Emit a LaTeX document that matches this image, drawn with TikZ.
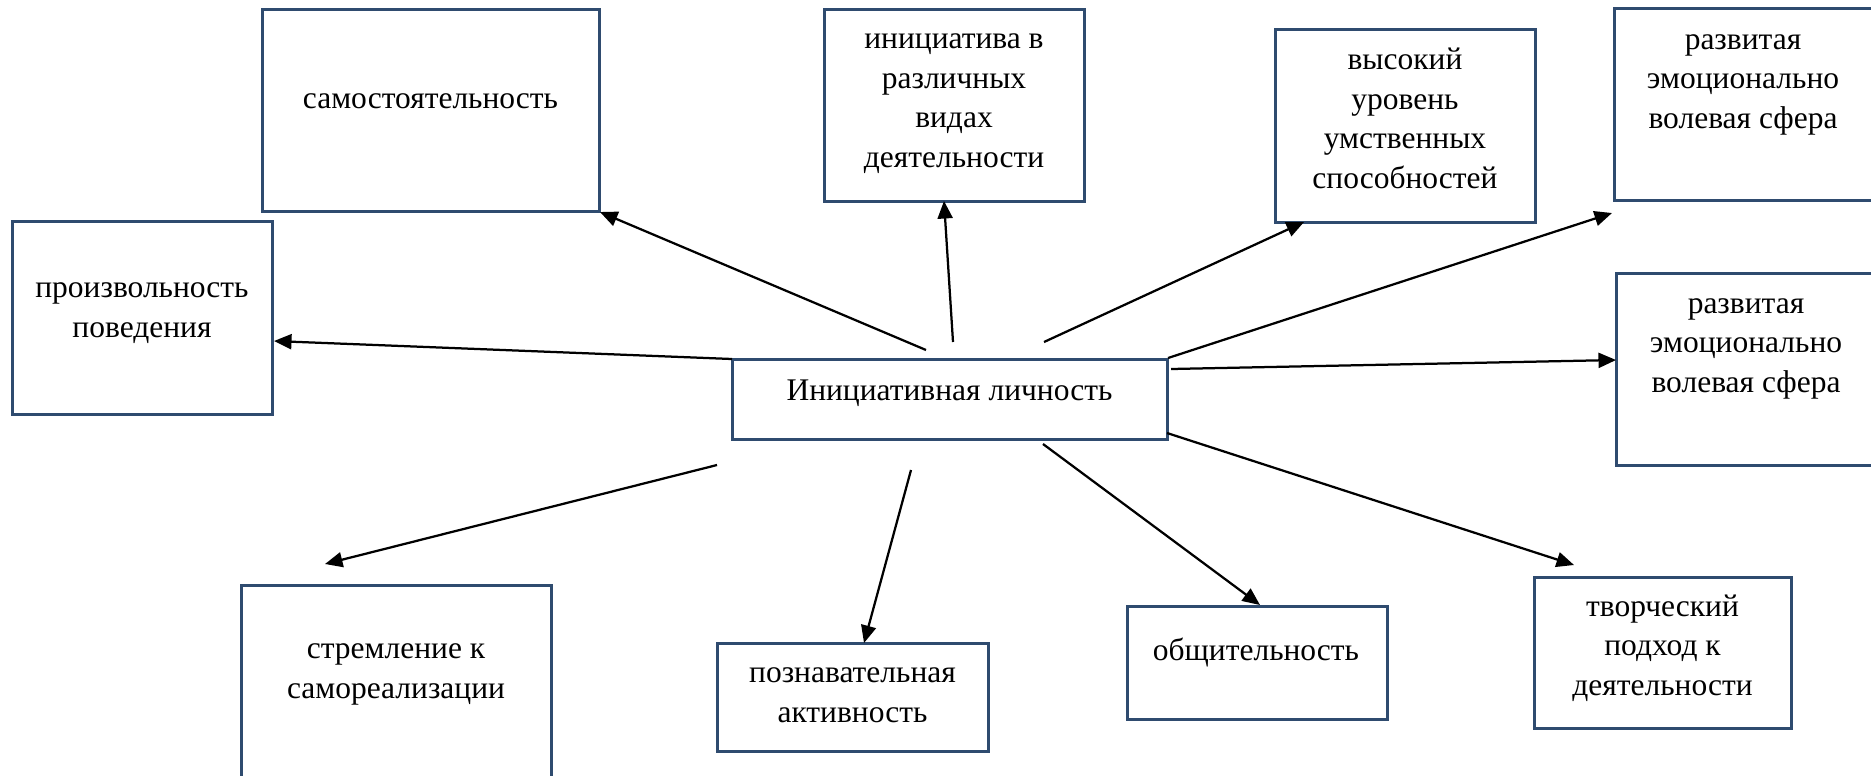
\documentclass[tikz,border=0pt]{standalone}
\usepackage{fontspec}
\setmainfont{Liberation Serif}
\usetikzlibrary{arrows.meta}
\definecolor{frame}{HTML}{2F4B6F}
\begin{document}
\begin{tikzpicture}[x=0.4pt,y=-0.4pt,>={Triangle[length=7pt,width=6pt]},
  box/.style 2 args={draw=frame,line width=1.2pt,inner sep=0pt,minimum width=#1*0.4pt,minimum height=#2*0.4pt},
  txt/.style={font=\fontsize{12.6}{15.8}\selectfont,align=center,inner sep=0pt,anchor=base},
  link/.style={->,line width=0.9pt}]
\clip (0,0) rectangle (1871,775);
% frames
\node[box={337}{202}] (samost) at (430.5,110) {};
\node[box={260}{193}] (proizv) at (142,317.5) {};
\node[box={260}{192}] (inic) at (954,105) {};
\node[box={260}{193}] (vysok) at (1405,125.5) {};
\node[box={260}{192}] (razvA) at (1744,104) {};
\node[box={260}{192}] (razvB) at (1746,369) {};
\node[box={435}{80}] (lichn) at (949.5,399) {};
\node[box={310}{220}] (strem) at (396,695) {};
\node[box={271}{108}] (pozn) at (852.5,697) {};
\node[box={260}{113}] (obsh) at (1257,662.5) {};
\node[box={257}{151}] (tvor) at (1662.5,652.5) {};
% texts (anchored at the last line)
\node[txt] (samost-t) at (430.5,108) {самостоятельность};
\node[txt] (proizv-t) at (142,337) {произвольность\\поведения};
\node[txt] (inic-t) at (954,167) {инициатива в\\различных\\видах\\деятельности};
\node[txt] (vysok-t) at (1405,188) {высокий\\уровень\\умственных\\способностей};
\node[txt] (razvA-t) at (1743,128) {развитая\\эмоционально\\волевая сфера};
\node[txt] (razvB-t) at (1746,392) {развитая\\эмоционально\\волевая сфера};
\node[txt] (lichn-t) at (949.5,400) {Инициативная личность};
\node[txt] (strem-t) at (396,698) {стремление к\\самореализации};
\node[txt] (pozn-t) at (852.5,722) {познавательная\\активность};
\node[txt] (obsh-t) at (1256,660) {общительность};
\node[txt] (tvor-t) at (1662.5,695) {творческий\\подход к\\деятельности};
% free ends of the arrows
\coordinate (a1) at (926,350);   \coordinate (b1) at (600,212);
\coordinate (a2) at (953,342);   \coordinate (b2) at (944,201);
\coordinate (a3) at (1044,342);  \coordinate (b3) at (1304,222);
\coordinate (a4) at (1168,358);  \coordinate (b4) at (1612,213);
\coordinate (a5) at (1171,369);  \coordinate (b5) at (1616,360);
\coordinate (a6) at (732,359);   \coordinate (b6) at (274,341);
\coordinate (a7) at (717,465);   \coordinate (b7) at (325,564);
\coordinate (a8) at (911,470);   \coordinate (b8) at (864,643);
\coordinate (a9) at (1043,444);  \coordinate (b9) at (1260,605);
\coordinate (a10) at (1167,433); \coordinate (b10) at (1574,565);
\foreach \i in {1,...,10}
  \draw[link] (a\i) -- (b\i);
\end{tikzpicture}
\end{document}
